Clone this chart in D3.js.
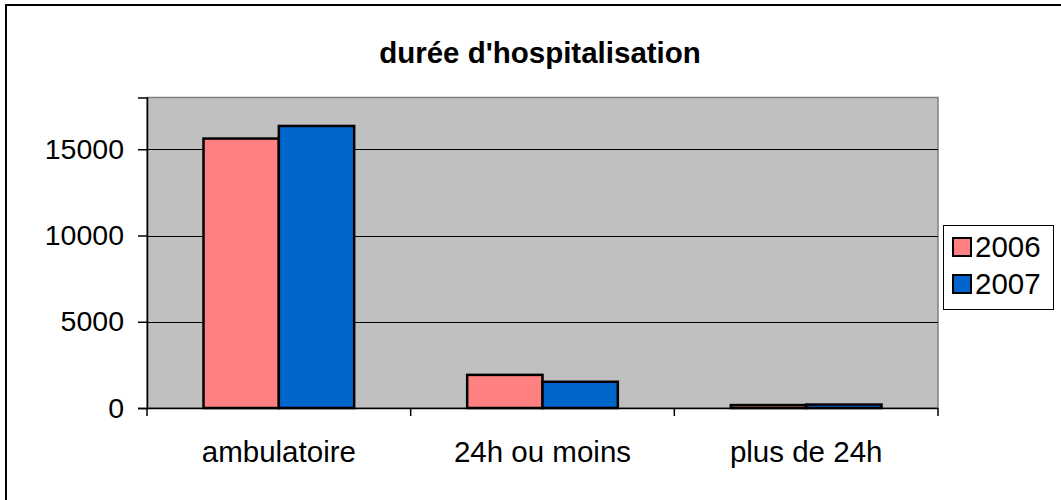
<!DOCTYPE html>
<html><head><meta charset="utf-8">
<script src="https://cdn.jsdelivr.net/npm/d3@7"></script>
<style>body{margin:0;background:#fff}svg{display:block}text{font-family:"Liberation Sans",Arial,sans-serif}</style>
</head><body><svg id="c" width="1061" height="500"></svg>
<script>
const categories = ["ambulatoire", "24h ou moins", "plus de 24h"];
const seriesNames = ["2006", "2007"];
const values2006 = [15620, 1920, 170];
const values2007 = [16350, 1520, 200];
const yTicks = [0, 5000, 10000, 15000];
const colors = ["#ff8080", "#0066cc"];

const svg = d3.select("#c");
const L = 147, R = 938, T = 97.5, B = 408;

svg.append("rect").attr("x", 6).attr("y", 5).attr("width", 1070).attr("height", 510)
  .attr("fill", "#fff").attr("stroke", "#000").attr("stroke-width", 2);

svg.append("text").attr("x", 540).attr("y", 63).attr("text-anchor", "middle")
  .attr("font-size", 29.5).attr("font-weight", "bold").text("durée d'hospitalisation");

const x = d3.scaleBand().domain(categories).range([L, R]).paddingInner(0.4286).paddingOuter(0.2143);
const xs = d3.scaleBand().domain(seriesNames).range([0, x.bandwidth()]);
const y = d3.scaleLinear().domain([0, 18000]).range([B, T]);

svg.append("rect").attr("x", L).attr("y", T).attr("width", R - L).attr("height", B - T)
  .attr("fill", "#c0c0c0").attr("stroke", "#808080").attr("stroke-width", 1.5);

svg.append("g").selectAll("line").data(yTicks.filter(d => d > 0)).join("line")
  .attr("x1", L).attr("x2", R).attr("y1", d => Math.round(y(d)) + 0.5).attr("y2", d => Math.round(y(d)) + 0.5)
  .attr("stroke", "#000").attr("stroke-width", 1);

const data = categories.map((c, i) => ({c, vals: [values2006[i], values2007[i]]}));
const g = svg.append("g");
data.forEach(d => {
  d.vals.forEach((v, j) => {
    g.append("rect")
      .attr("x", x(d.c) + xs(seriesNames[j]))
      .attr("y", y(v))
      .attr("width", xs.bandwidth())
      .attr("height", B - y(v))
      .attr("fill", colors[j]).attr("stroke", "#000").attr("stroke-width", 2.5);
  });
});

// y axis
const yAxis = d3.axisLeft(y).tickValues(yTicks).tickSize(9).tickPadding(14).tickFormat(d3.format("d"));
const ya = svg.append("g").attr("transform", `translate(${L},0)`).call(yAxis);
ya.select(".domain").attr("stroke", "#000").attr("stroke-width", 1.5);
ya.selectAll(".tick line").attr("stroke", "#000").attr("stroke-width", 1.5);
ya.selectAll(".tick text").attr("font-size", 28.5).attr("fill", "#000").attr("font-family", "Liberation Sans, Arial, sans-serif");

// x axis
const xAxis = d3.axisBottom(x).tickSize(0).tickPadding(33);
const xa = svg.append("g").attr("transform", `translate(0,${B})`).call(xAxis);
xa.select(".domain").attr("stroke", "#000").attr("stroke-width", 1.5).attr("d", `M${L},0.5H${R}`);
xa.selectAll(".tick text").attr("font-size", 29.5).attr("fill", "#000").attr("font-family", "Liberation Sans, Arial, sans-serif").attr("dy", "0.71em");
const bounds = [L].concat(categories.map(c => x(c) + x.bandwidth() + x.step() * x.paddingInner() / 2));
bounds[bounds.length - 1] = R;
svg.append("g").selectAll("line").data(bounds).join("line")
  .attr("x1", d => d).attr("x2", d => d).attr("y1", B).attr("y2", B + 8)
  .attr("stroke", "#000").attr("stroke-width", 1.5);

// legend
const lg = svg.append("g");
lg.append("rect").attr("x", 943.5).attr("y", 225.5).attr("width", 110).attr("height", 84)
  .attr("fill", "#fff").attr("stroke", "#000").attr("stroke-width", 1);
seriesNames.forEach((s, i) => {
  lg.append("rect").attr("x", 953).attr("y", 238 + i * 37).attr("width", 18).attr("height", 18)
    .attr("fill", colors[i]).attr("stroke", "#000").attr("stroke-width", 2);
  lg.append("text").attr("x", 975).attr("y", 257 + i * 37).attr("font-size", 29.5).text(s);
});
</script></body></html>
